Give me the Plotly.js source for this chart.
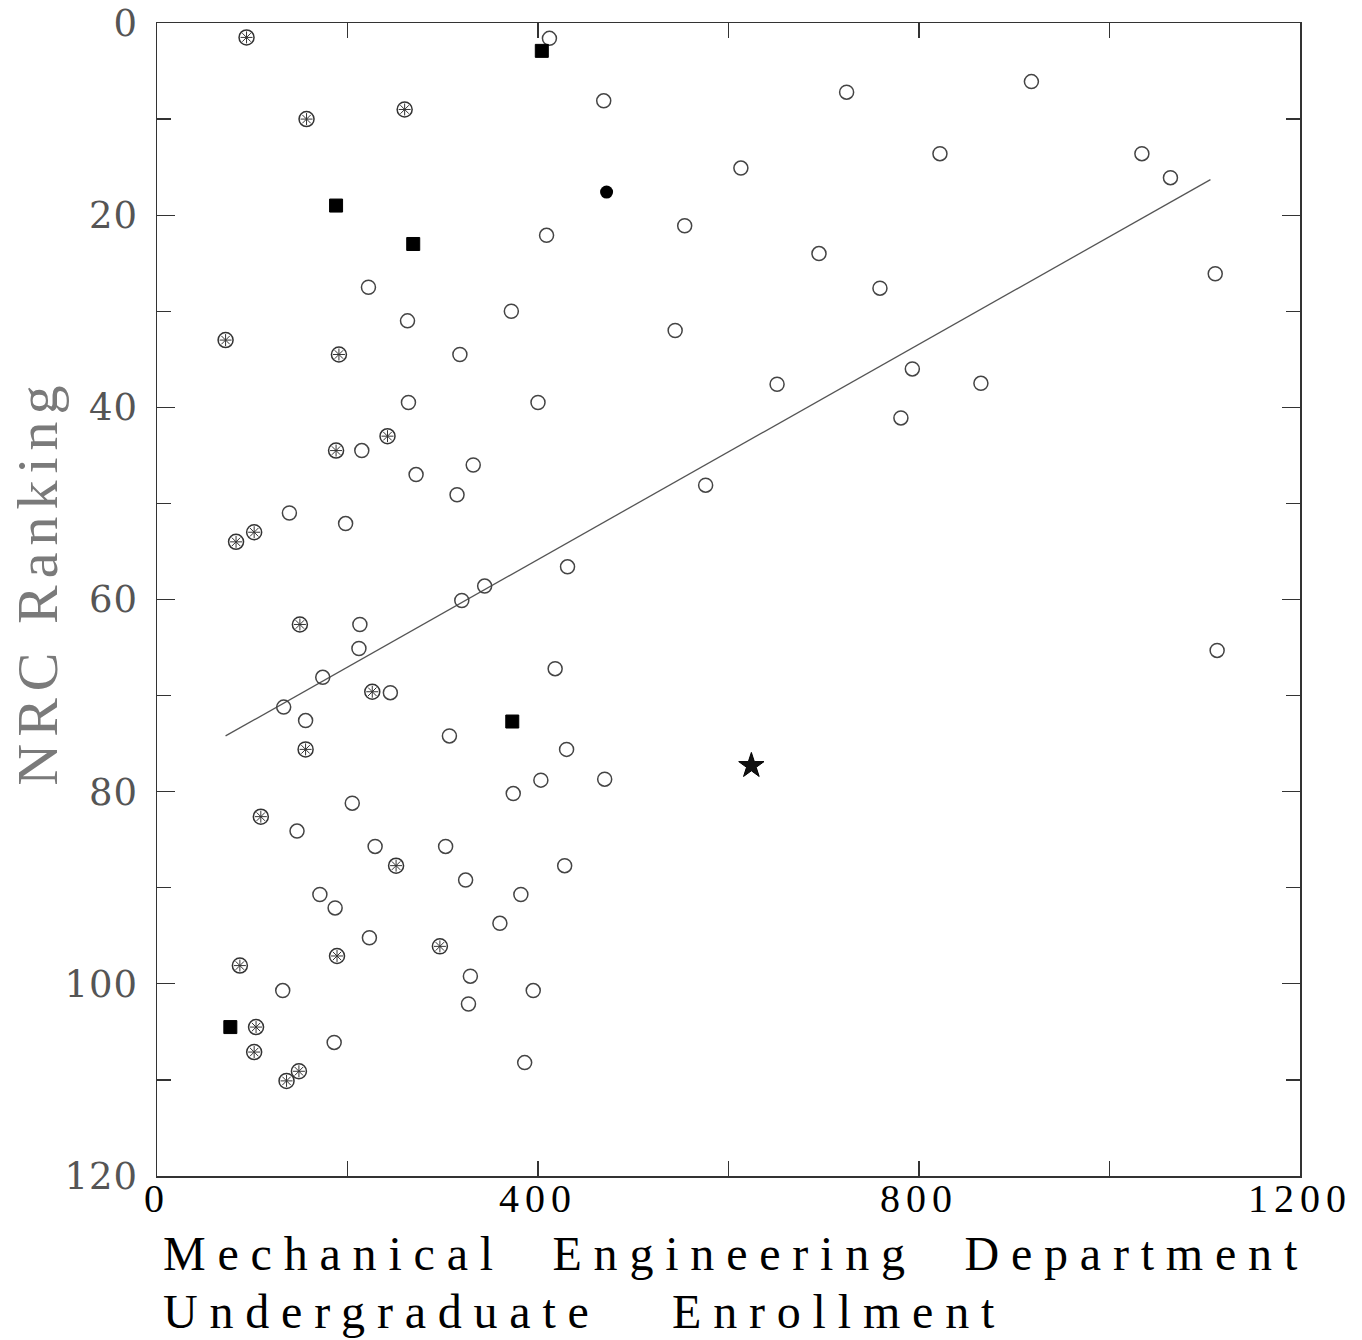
<!DOCTYPE html>
<html>
<head>
<meta charset="utf-8">
<script src="https://cdn.plot.ly/plotly-3.0.1.min.js"></script>
<style>
  html, body { margin: 0; padding: 0; background: #fff; }
  #chart { width: 1362px; height: 1340px; }
  .xtick text { letter-spacing: 6px; }
  .ytick text { letter-spacing: 1px; }
  .annotation[data-index="0"] text, .annotation[data-index="1"] text { letter-spacing: 11.8px; }
  .annotation[data-index="2"] text { letter-spacing: 7px; }
</style>
</head>
<body>
<div id="chart"></div>
<script>
// Open circles
const openX = [412, 469, 724, 918, 822, 1034, 1064, 613, 409, 554, 695, 759, 1111, 222, 263, 372, 544, 318, 651, 793, 865, 264, 400, 781, 215, 272, 332, 315, 576, 139, 198, 431, 344, 320, 213, 212, 1113, 418, 174, 245, 133, 156, 307, 430, 403, 470, 374, 205, 147, 229, 303, 324, 428, 171, 187, 382, 360, 223, 329, 132, 395, 327, 186, 386];
const openY = [1.6, 8.1, 7.2, 6.1, 13.6, 13.6, 16.1, 15.1, 22.1, 21.1, 24.0, 27.6, 26.1, 27.5, 31.0, 30.0, 32.0, 34.5, 37.6, 36.0, 37.5, 39.5, 39.5, 41.1, 44.5, 47.0, 46.0, 49.1, 48.1, 51.0, 52.1, 56.6, 58.6, 60.1, 62.6, 65.1, 65.3, 67.2, 68.1, 69.7, 71.2, 72.6, 74.2, 75.6, 78.8, 78.7, 80.2, 81.2, 84.1, 85.7, 85.7, 89.2, 87.7, 90.7, 92.1, 90.7, 93.7, 95.2, 99.2, 100.7, 100.7, 102.1, 106.1, 108.2];
// Circles with asterisk
const astX = [94, 157, 260, 72, 191, 242, 188, 102, 83, 150, 226, 156, 109, 251, 297, 189, 87, 104, 102, 136, 149];
const astY = [1.5, 10.0, 9.0, 33.0, 34.5, 43.0, 44.5, 53.0, 54.0, 62.6, 69.6, 75.6, 82.6, 87.7, 96.1, 97.1, 98.1, 104.5, 107.1, 110.1, 109.1];
// Filled squares
const sqX = [404, 188, 269, 373, 77];
const sqY = [2.9, 19.0, 23.0, 72.7, 104.5];
// Filled circle
const dotX = [472];
const dotY = [17.6];
// Star
const starX = [624];
const starY = [77.3];
// Fitted line end points
const fitX = [72, 1106];
const fitY = [74.2, 16.3];

const xTickVals = [0, 400, 800, 1200];
const xTickText = ['0', '400', '800', '1200'];
const yTickVals = [0, 20, 40, 60, 80, 100, 120];
const yTickText = ['0', '20', '40', '60', '80', '100', '120'];

const xTitle1 = 'Mechanical\u00a0\u00a0Engineering\u00a0\u00a0Department';
const xTitle2 = 'Undergraduate\u00a0\u00a0\u00a0Enrollment';
const yTitle = 'NRC Ranking';

const traces = [
  { x: fitX, y: fitY, type: 'scatter', mode: 'lines',
    line: { color: '#555', width: 1.3 }, hoverinfo: 'skip' },
  { x: openX, y: openY, type: 'scatter', mode: 'markers',
    marker: { symbol: 'circle-open', size: 14, color: '#444', line: { width: 1.5, color: '#444' } } },
  { x: astX, y: astY, type: 'scatter', mode: 'markers',
    marker: { symbol: 'circle-open', size: 15, color: '#333', line: { width: 1.5, color: '#333' } } },
  { x: astX, y: astY, type: 'scatter', mode: 'markers',
    marker: { symbol: 'asterisk-open', size: 10, color: '#333', line: { width: 1, color: '#333' } } },
  { x: sqX, y: sqY, type: 'scatter', mode: 'markers',
    marker: { symbol: 'square', size: 13, color: '#000', line: { width: 1, color: '#000' } } },
  { x: dotX, y: dotY, type: 'scatter', mode: 'markers',
    marker: { symbol: 'circle', size: 13, color: '#000' } },
  { x: starX, y: starY, type: 'scatter', mode: 'markers',
    marker: { symbol: 'star', size: 19, color: '#111', line: { width: 1, color: '#000' } } }
];

const layout = {
  width: 1362, height: 1340,
  margin: { l: 157, r: 62, t: 23, b: 164 },
  paper_bgcolor: '#fff', plot_bgcolor: '#fff',
  showlegend: false,
  xaxis: {
    range: [0, 1200], autorange: false,
    showgrid: false, zeroline: false,
    showline: true, mirror: 'ticks', linecolor: '#333', linewidth: 1.5,
    ticks: 'inside', ticklen: 15, tickwidth: 1.3, tickcolor: '#333',
    tickmode: 'array', tickvals: xTickVals, ticktext: xTickText,
    minor: { tickvals: [200, 600, 1000], ticks: 'inside', ticklen: 15, tickwidth: 1.3, tickcolor: '#333' },
    tickfont: { family: 'Liberation Serif, serif', size: 40, color: '#000' },
    ticklabelstandoff: -14
  },
  yaxis: {
    range: [120, 0], autorange: false,
    showgrid: false, zeroline: false,
    showline: true, mirror: 'ticks', linecolor: '#333', linewidth: 1.5,
    ticks: 'inside', ticklen: 18, tickwidth: 1.3, tickcolor: '#333',
    tickmode: 'array', tickvals: yTickVals, ticktext: yTickText,
    minor: { tickvals: [10, 30, 50, 70, 90, 110], ticks: 'inside', ticklen: 14, tickwidth: 1.3, tickcolor: '#333' },
    tickfont: { family: 'DejaVu Serif, serif', size: 37, color: '#555' },
    ticklabelstandoff: 10
  },
  annotations: [
    { text: xTitle1, xref: 'paper', yref: 'paper', x: 0, y: 0, xshift: 4, yshift: -77,
      xanchor: 'left', yanchor: 'middle', align: 'left', showarrow: false,
      font: { family: 'Liberation Serif, serif', size: 48, color: '#000' } },
    { text: xTitle2, xref: 'paper', yref: 'paper', x: 0, y: 0, xshift: 4, yshift: -135,
      xanchor: 'left', yanchor: 'middle', align: 'left', showarrow: false,
      font: { family: 'Liberation Serif, serif', size: 48, color: '#000' } },
    { text: yTitle, xref: 'paper', yref: 'paper', x: 0, y: 0.515, xshift: -120, yshift: 0,
      xanchor: 'center', yanchor: 'middle', textangle: -90, showarrow: false,
      font: { family: 'Liberation Serif, serif', size: 58, color: '#7a7a7a' } }
  ]
};

Plotly.newPlot('chart', traces, layout, { displayModeBar: false, staticPlot: true });
</script>
</body>
</html>
